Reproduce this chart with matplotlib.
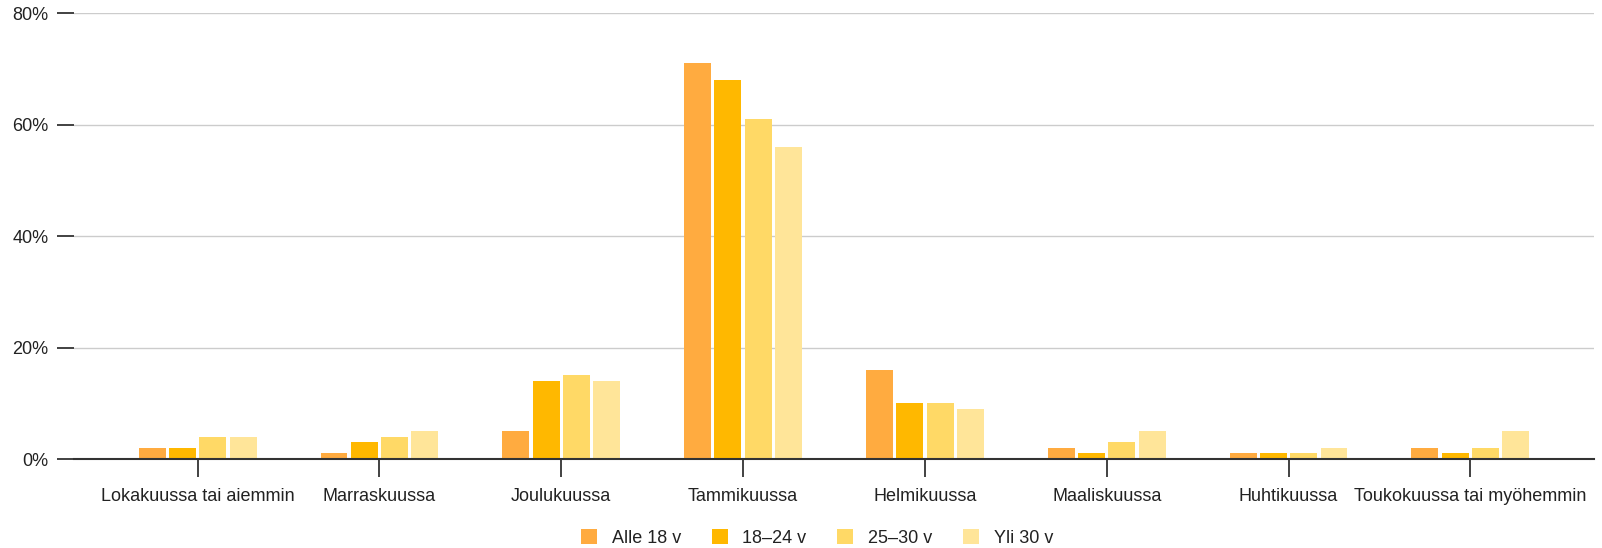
import numpy as np
import matplotlib
matplotlib.use("Agg")
import matplotlib.pyplot as plt
from matplotlib.ticker import FuncFormatter

plt.rcParams["font.family"] = ["Liberation Sans", "DejaVu Sans"]

categories = ["Lokakuussa tai aiemmin", "Marraskuussa", "Joulukuussa", "Tammikuussa",
              "Helmikuussa", "Maaliskuussa", "Huhtikuussa", "Toukokuussa tai myöhemmin"]
series_names = ["Alle 18 v", "18–24 v", "25–30 v", "Yli 30 v"]
alle18 = [2, 1, 5, 71, 16, 2, 1, 2]
v18_24 = [2, 3, 14, 68, 10, 1, 1, 1]
v25_30 = [4, 4, 15, 61, 10, 3, 1, 2]
yli30 = [4, 5, 14, 56, 9, 5, 2, 5]
colors = ["#FFAB40", "#FFB800", "#FFD966", "#FFE599"]

fig = plt.figure(figsize=(16.02, 5.48), dpi=100)
ax = fig.add_axes([74 / 1602, 1 - 459 / 548, 1520 / 1602, (459 - 13.3) / 548])

x = np.arange(len(categories))
step = 0.1667
width = 0.148
for i, (name, vals) in enumerate(zip(series_names, [alle18, v18_24, v25_30, yli30])):
    ax.bar(x + (i - 1.5) * step, vals, width, color=colors[i], label=name, zorder=3)

ax.set_xlim(-0.68, 7.68)
ax.set_ylim(0, 80)
ax.set_yticks([0, 20, 40, 60, 80])
ax.yaxis.set_major_formatter(FuncFormatter(lambda v, p: f"{int(v)}%"))
ax.grid(axis="y", color="#cccccc", linewidth=1, zorder=0)
ax.set_xticks(x)
ax.set_xticklabels(categories)

for s in ["top", "right", "left"]:
    ax.spines[s].set_visible(False)
ax.spines["bottom"].set_color("#333333")
ax.spines["bottom"].set_linewidth(1.5)
ax.spines["bottom"].set_zorder(4)

ax.tick_params(axis="x", length=13, width=1.3, color="#333333", labelsize=13,
               labelcolor="#222222", pad=8)
ax.tick_params(axis="y", length=12.5, width=1.3, color="#333333", labelsize=13,
               labelcolor="#222222", pad=6)

fig.legend(loc="center", bbox_to_anchor=(0.51, 1 - 538 / 548), ncol=4, frameon=False,
           fontsize=13, handlelength=0.9, handleheight=0.9, handletextpad=0.8,
           columnspacing=1.7, labelcolor="#222222")

fig.savefig("out.png", dpi=100)
